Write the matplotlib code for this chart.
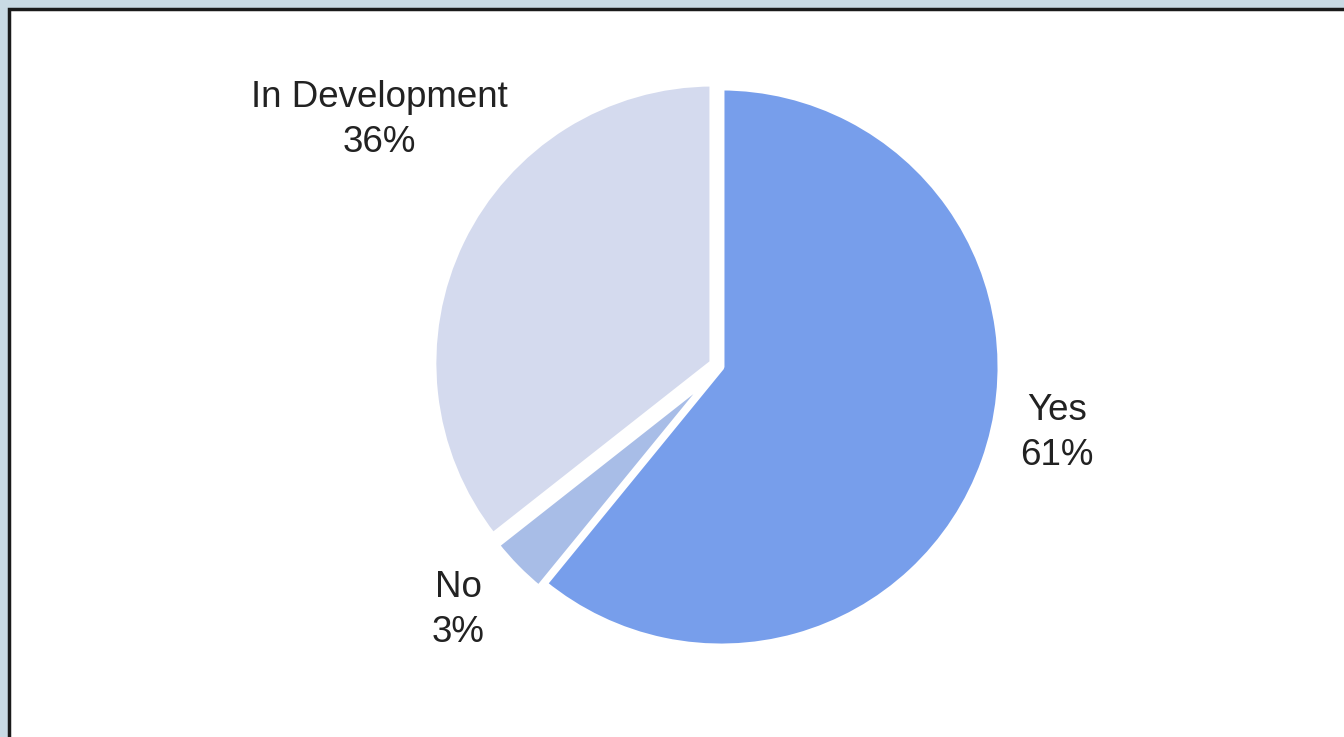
import matplotlib.pyplot as plt
from matplotlib.patches import Rectangle

categories = ["Yes", "No", "In Development"]
shares = [60.9, 3.49, 35.61]  # shown rounded: 61%, 3%, 36%
colors = ["#779EEB", "#A8BDE7", "#D4DAEE"]

W, H = 1344, 737
fig = plt.figure(figsize=(W / 100, H / 100), dpi=100)
fig.patch.set_facecolor("#C9DAE4")

ax = fig.add_axes([0, 0, 1, 1])
# axes are in pixel units, so the explode offsets are in pixels
ax.pie(shares, colors=colors, startangle=90, counterclock=False,
       explode=[0, 7, 9], center=(721, H - 367), radius=280,
       wedgeprops=dict(edgecolor="white", linewidth=5, joinstyle="bevel"))
ax.set_xlim(0, W)
ax.set_ylim(0, H)
ax.set_aspect("equal")
ax.axis("off")

# white panel with dark frame
ax.add_patch(Rectangle((8.5, -20), W + 20, H - 8.5 + 20, facecolor="white",
                       edgecolor="#1a1a1a", linewidth=2.5, zorder=0))

label_pos = {"Yes": (1057, 433), "No": (458, 610), "In Development": (379, 120)}
for name, val in zip(categories, shares):
    x, y = label_pos[name]
    ax.text(x, H - y, f"{name}\n{val:.0f}%", ha="center", va="center",
            fontsize=26.5, color="#222222", family="Liberation Sans",
            linespacing=1.4)

fig.savefig("out.png", dpi=100, facecolor=fig.get_facecolor())
